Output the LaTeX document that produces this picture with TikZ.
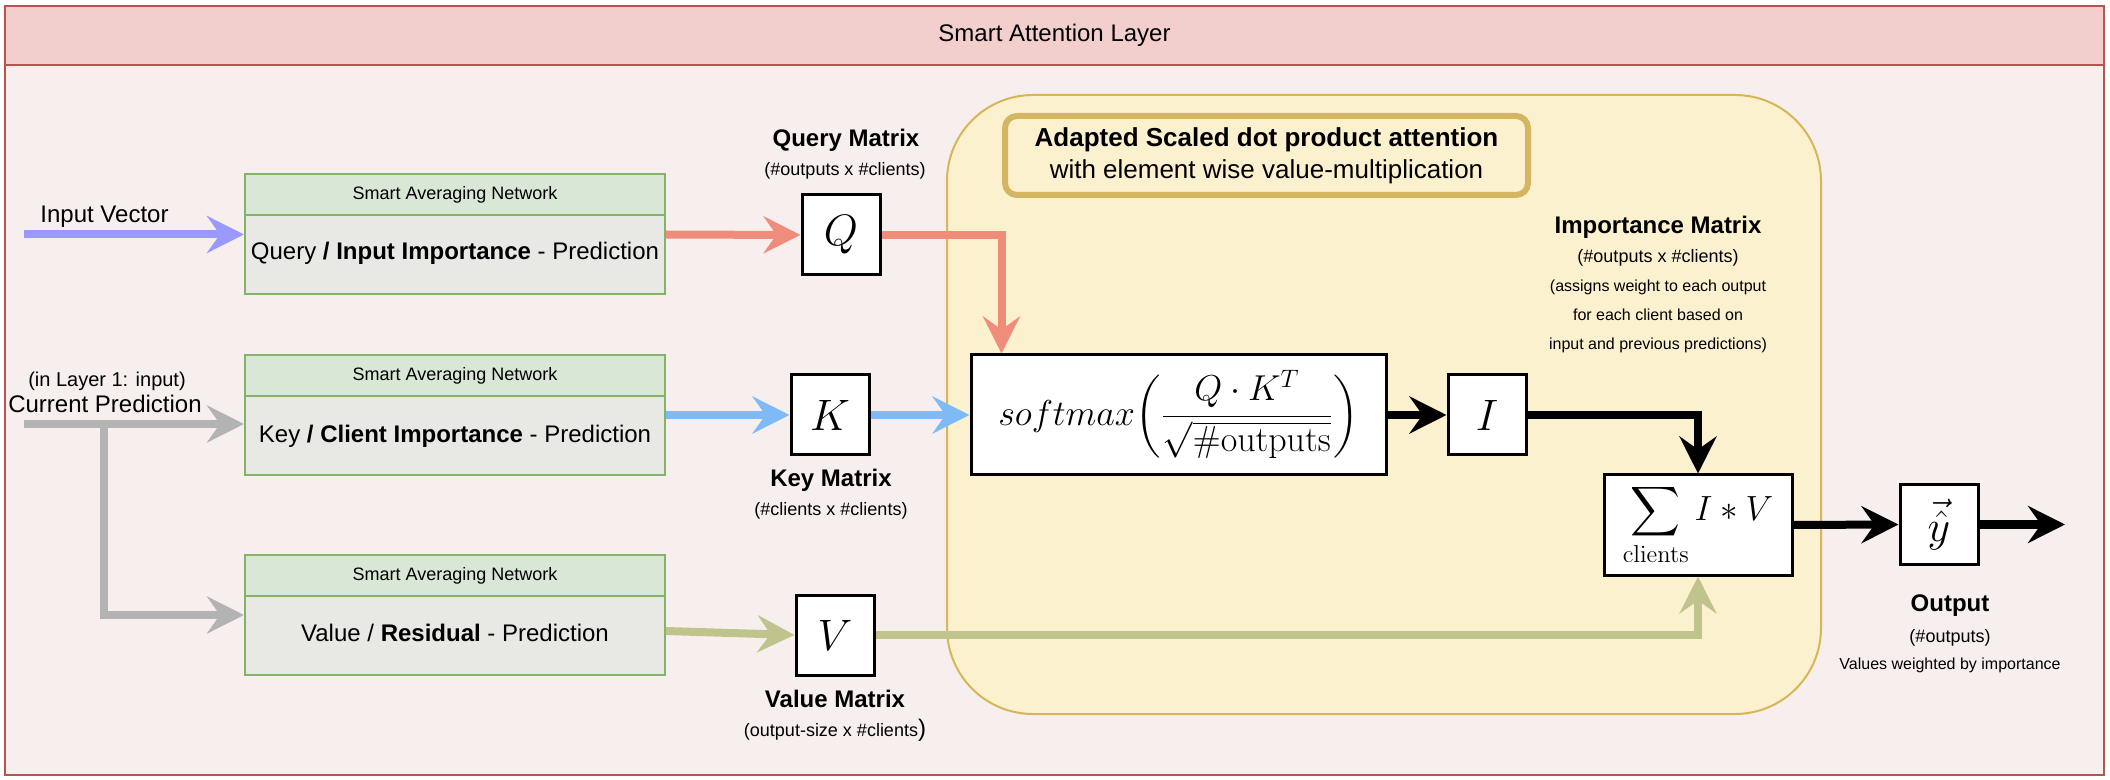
\RequirePackage{fix-cm}
\documentclass[tikz,border=0pt]{standalone}
\usepackage{exscale}
\usepackage[no-math]{fontspec}
\setmainfont{Liberation Sans}
\usetikzlibrary{arrows.meta,calc}

\definecolor{frameS}{HTML}{B85450}
\definecolor{frameH}{HTML}{F2CFCD}
\definecolor{frameB}{HTML}{F7EFEE}
\definecolor{yelF}{HTML}{FCF1CF}
\definecolor{yelS}{HTML}{D6B656}
\definecolor{yelT}{HTML}{D4B662}
\definecolor{grnH}{HTML}{D9E7D6}
\definecolor{grnB}{HTML}{E8E8E5}
\definecolor{grnS}{HTML}{82B366}
\definecolor{cRed}{HTML}{F08C7A}
\definecolor{cBlue}{HTML}{7EBAF6}
\definecolor{cOlive}{HTML}{BFC48D}
\definecolor{cGray}{HTML}{B3B3B3}
\definecolor{cViolet}{HTML}{9999FF}

\begin{document}
\begin{tikzpicture}[x=0.5pt,y=-0.5pt,
  conn/.style={line width=4pt,-{Stealth[length=18.5pt,width=18.5pt,inset=6.5pt]}},
  gbox/.style={draw=grnS,line width=1pt,fill=grnB,minimum width=210pt,minimum height=60pt,inner sep=0},
  ghead/.style={draw=grnS,line width=1pt,fill=grnH,minimum width=210pt,minimum height=20.5pt,inner sep=0,font=\fontsize{9}{11}\selectfont},
  gtext/.style={font=\fontsize{12}{14}\selectfont,inner sep=0},
  mbox/.style={draw=black,line width=1.5pt,fill=white,minimum width=39pt,minimum height=40pt,inner sep=0,font=\fontsize{22}{26}\selectfont},
  lbl/.style={font=\fontsize{12}{14}\selectfont\bfseries,inner sep=0},
  sub/.style={font=\fontsize{9}{11}\selectfont,inner sep=0},
  small/.style={font=\fontsize{8}{10}\selectfont,inner sep=0},
]
\useasboundingbox (0,0) rectangle (2110,780);
% frame
\fill[frameB] (5,6) rectangle (2104,775);
\fill[frameH] (5,6) rectangle (2104,65);
\draw[frameS,line width=1pt] (5,6) rectangle (2104,775);
\draw[frameS,line width=1pt] (5,65) -- (2104,65);
\node[font=\fontsize{12}{14}\selectfont,inner sep=0] (title) at (1054.5,35) {Smart Attention Layer};

% attention container
\draw[yelS,fill=yelF,line width=1pt,rounded corners=43pt] (947,95) rectangle (1821,714);
\node[draw=yelT,line width=3pt,fill=yelF,rounded corners=6pt,minimum width=261.5pt,minimum height=39.5pt,align=center,font=\fontsize{13}{16}\selectfont,inner sep=0] (att) at (1266.5,155.5) {\textbf{Adapted Scaled dot product attention}\\with element wise value-multiplication};

% green networks
\node[gbox] (g1) at (455,234.5) {};
\node[ghead,anchor=north] (g1h) at (g1.north) {Smart Averaging Network};
\node[gtext] (g1t) at (455,253) {Query \textbf{/ Input Importance} - Prediction};

\node[gbox] (g2) at (455,415) {};
\node[ghead,anchor=north] (g2h) at (g2.north) {Smart Averaging Network};
\node[gtext] (g2t) at (455,436) {Key \textbf{/ Client Importance} - Prediction};

\node[gbox] (g3) at (455,615) {};
\node[ghead,anchor=north] (g3h) at (g3.north) {Smart Averaging Network};
\node[gtext] (g3t) at (455,633) {Value / \textbf{Residual} - Prediction};

% left labels
\node[gtext] (inlbl) at (104.5,217) {Input Vector};
\node[font=\fontsize{10}{12}\selectfont,inner sep=0] (cplbl1) at (107,381) {(in Layer 1: input)};
\node[gtext] (cplbl2) at (105,404) {Current Prediction};
\coordinate (instart) at (24,234.5);
\coordinate (cpstart) at (24,424);
\coordinate (cpbranch) at (104,424);

% matrices
\node[mbox] (Q) at (841,235) {$Q$};
\node[mbox] (K) at (830,415) {$K$};
\node[mbox] (V) at (835,635) {$V$};
\node[mbox] (I) at (1487,415) {$I$};
\node[mbox] (yh) at (1939,524.5) {$\vec{\hat{y}}$};
\node[mbox,minimum width=207.5pt,minimum height=60pt,font=\fontsize{18}{21}\selectfont] (sm) at (1178.5,415) {$\displaystyle softmax\biggl(\frac{Q\cdot K^T}{\sqrt{\mathrm{\#outputs}}}\biggr)$};
\node[mbox,minimum width=94pt,minimum height=50pt,font=\fontsize{17.5}{21}\selectfont] (sum) at (1698,525) {$\displaystyle\sum_{\mathrm{clients}} I*V$};

% labels
\node[lbl] (qlbl) at (846,140) {Query Matrix};
\node[sub] (qsub) at (845,171) {(\#outputs x \#clients)};
\node[lbl] (klbl) at (831,480) {Key Matrix};
\node[sub] (ksub) at (831,511) {(\#clients x \#clients)};
\node[lbl] (vlbl) at (835,699) {Value Matrix};
\node[sub] (vsub) at (835,730) {(output-size x \#clients{\fontsize{12}{14}\selectfont)}};
\node[lbl] (ilbl) at (1658,227) {Importance Matrix};
\node[sub] (isub) at (1658,258) {(\#outputs x \#clients)};
\node[font=\fontsize{8}{14.5}\selectfont,inner sep=0,align=center] (idesc) at (1658,316) {(assigns weight to each output\\for each client based on\\input and previous predictions)};
\node[lbl] (olbl) at (1950,606) {Output};
\node[sub] (osub) at (1950,638) {(\#outputs)};
\node[small] (odesc) at (1950,665) {Values weighted by importance};

% connectors
\draw[conn,cViolet] (instart) -- (g1.west);
\draw[conn,cGray] (cpstart) -- (cpstart -| g2.west);
\draw[conn,cGray] (cpbranch) |- (g3.west);
\draw[conn,cRed] (g1.east) -- (Q.west);
\draw[conn,cRed] (Q.east) -| ([xshift=16pt]sm.north west);
\draw[conn,cBlue] (g2.east) -- (K.west);
\draw[conn,cBlue] (K.east) -- (sm.west);
\draw[conn,cOlive] ([yshift=-8pt]g3.east) -- (V.west);
\draw[conn,cOlive] (V.east) -| (sum.south);
\draw[conn] (sm.east) -- (I.west);
\draw[conn] (I.east) -| (sum.north);
\draw[conn] (sum.east) -- (yh.west);
\coordinate (outend) at (2065,524.5);
\draw[conn] (yh.east) -- (outend);
\end{tikzpicture}
\end{document}
